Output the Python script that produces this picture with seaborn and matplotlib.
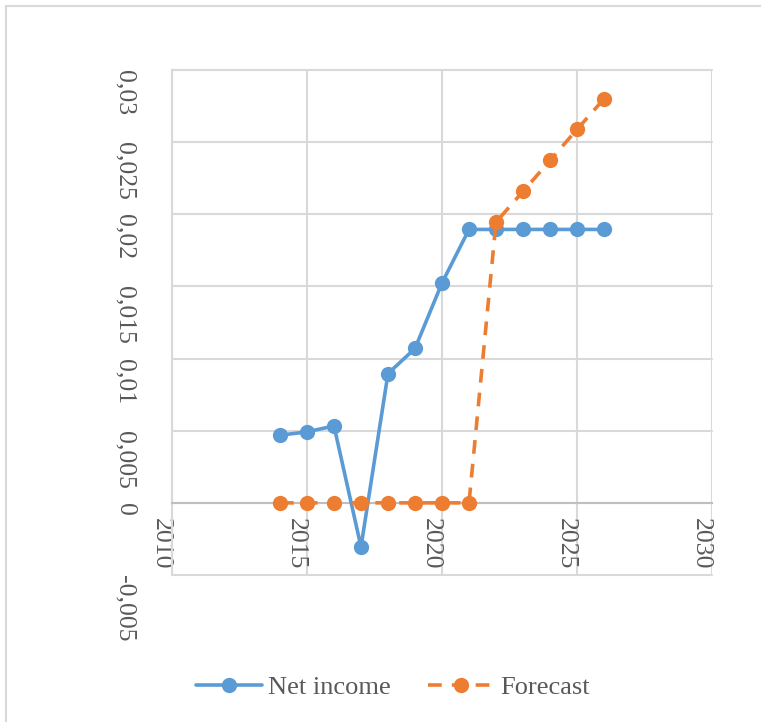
import numpy as np
import pandas as pd
import matplotlib
matplotlib.use('Agg')
import matplotlib.pyplot as plt
import seaborn as sns

# data
years = [2014, 2015, 2016, 2017, 2018, 2019, 2020, 2021, 2022, 2023, 2024, 2025, 2026]
net_income = [0.00469, 0.00492, 0.00533, -0.00305, 0.00896, 0.0107, 0.01524, 0.01895,
              0.01895, 0.01895, 0.01895, 0.01895, 0.01895]
forecast = [0, 0, 0, 0, 0, 0, 0, 0, 0.01946, 0.02158, 0.02373, 0.02588, 0.028]
x_ticks = [2010, 2015, 2020, 2025, 2030]
y_ticks = [-0.005, 0, 0.005, 0.01, 0.015, 0.02, 0.025, 0.03]
y_labels = ['-0,005', '0', '0,005', '0,01', '0,015', '0,02', '0,025', '0,03']

df = pd.DataFrame({'Year': years, 'Net income': net_income, 'Forecast': forecast})

sns.set_style('white')
plt.rcParams['font.family'] = ['Liberation Serif', 'DejaVu Serif']

blue = '#5B9BD5'
orange = '#ED7D31'
grid_c = '#d9d9d9'
text_c = '#595959'

fig = plt.figure(figsize=(7.61, 7.22), dpi=100)
ax = fig.add_axes([172 / 761, 1 - 575 / 722, 540 / 761, 505 / 722])

sns.lineplot(data=df, x='Year', y='Net income', ax=ax, color=blue, lw=2.6,
             marker='o', markersize=11, markeredgewidth=0, label='Net income',
             zorder=3)
sns.lineplot(data=df, x='Year', y='Forecast', ax=ax, color=orange, lw=2.6,
             linestyle=(0, (3.8, 2.8)), marker='o', markersize=11,
             markeredgewidth=0, label='Forecast', zorder=4)

ax.set_xlim(2010, 2030)
ax.set_ylim(-0.005, 0.03)
ax.set_xticks(x_ticks)
ax.set_yticks(y_ticks)
ax.set_yticklabels(y_labels)
ax.set_xlabel('')
ax.set_ylabel('')

ax.grid(True, color=grid_c, lw=1.5)
for l in ax.get_xgridlines() + ax.get_ygridlines():
    l.set_clip_on(False)

for s in ['top', 'right']:
    ax.spines[s].set_visible(False)
ax.spines['left'].set_color(grid_c)
ax.spines['left'].set_linewidth(1.5)
ax.spines['bottom'].set_position(('data', 0))
ax.spines['bottom'].set_color('#bfbfbf')
ax.spines['bottom'].set_linewidth(1.5)

ax.tick_params(axis='both', length=0, labelsize=18.5, labelcolor=text_c)
ax.tick_params(axis='y', pad=26)
ax.tick_params(axis='x', pad=11)
for t in ax.get_yticklabels():
    t.set_rotation(270)
    t.set_va('top')
    t.set_ha('right')
for t in ax.get_xticklabels():
    t.set_rotation(270)
    t.set_va('top')
    t.set_ha('right')

ax.get_legend().remove()
h, lab = ax.get_legend_handles_labels()
fig.legend(h, lab, loc='center', bbox_to_anchor=(393 / 761, 1 - 687 / 722),
           ncol=2, frameon=False, fontsize=19, labelcolor=text_c,
           handlelength=2.5, handletextpad=0.25, columnspacing=1.4)

# outer chart border (left and top edges visible)
fig.add_artist(plt.Line2D([6 / 761, 6 / 761], [0, 1 - 6 / 722], color=grid_c,
                          lw=1.5, transform=fig.transFigure))
fig.add_artist(plt.Line2D([6 / 761, 1], [1 - 6 / 722, 1 - 6 / 722], color=grid_c,
                          lw=1.5, transform=fig.transFigure))

fig.savefig('out.png', dpi=100)
